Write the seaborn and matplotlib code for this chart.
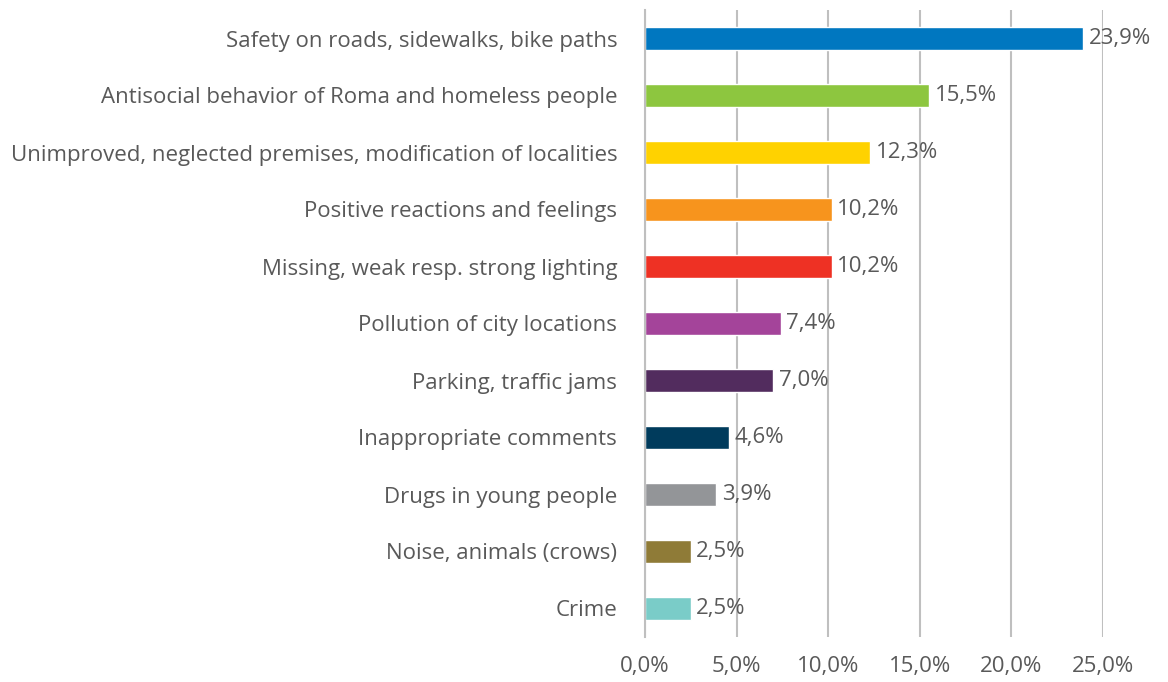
import matplotlib
matplotlib.use("Agg")
import matplotlib.pyplot as plt
from matplotlib.ticker import FixedLocator, FuncFormatter
import seaborn as sns
import pandas as pd

categories = [
    "Safety on roads, sidewalks, bike paths",
    "Antisocial behavior of Roma and homeless people",
    "Unimproved, neglected premises, modification of localities",
    "Positive reactions and feelings",
    "Missing, weak resp. strong lighting",
    "Pollution of city locations",
    "Parking, traffic jams",
    "Inappropriate comments",
    "Drugs in young people",
    "Noise, animals (crows)",
    "Crime",
]
values = [23.9, 15.5, 12.3, 10.2, 10.2, 7.4, 7.0, 4.6, 3.9, 2.5, 2.5]
colors = ["#0077C0", "#8DC63F", "#FFD200", "#F7941D", "#EE3124", "#A4449A",
          "#522C5E", "#003B5C", "#939598", "#8F7B37", "#7ACCC8"]
x_ticks = [0, 5, 10, 15, 20, 25]

sns.set_theme(style="white")
plt.rcParams["font.family"] = ["Open Sans", "DejaVu Sans"]
text_color = "#595959"
grid_color = "#BFBFBF"

df = pd.DataFrame({"category": categories, "value": values})

fig = plt.figure(figsize=(11.68, 6.82), dpi=100)
ax = fig.add_axes([645/1168, 1-637/682, (1103-645)/1168, (637-10)/682])

sns.barplot(data=df, x="value", y="category", hue="category", palette=colors,
            order=categories, hue_order=categories, width=0.42, legend=False,
            dodge=False, saturation=1, ax=ax, zorder=3)

ax.set_xlim(0, 25)
ax.set_ylim(len(categories) - 0.5, -0.5)
ax.xaxis.set_major_locator(FixedLocator(x_ticks))
ax.xaxis.set_major_formatter(FuncFormatter(lambda v, p: f"{v:.1f}%".replace(".", ",")))
ax.grid(axis="x", color=grid_color, linewidth=1.5, zorder=0)
ax.set_axisbelow(True)
for s in ["top", "right", "bottom"]:
    ax.spines[s].set_visible(False)
ax.spines["left"].set_color(grid_color)
ax.spines["left"].set_linewidth(1.5)
ax.spines["left"].set_zorder(4)

ax.set_xlabel("")
ax.set_ylabel("")
ax.tick_params(axis="x", length=0, pad=14, labelsize=16, labelcolor=text_color)
ax.tick_params(axis="y", which="major", length=0, pad=20, labelsize=16, labelcolor=text_color)
ax.yaxis.set_minor_locator(FixedLocator([i - 0.5 for i in range(len(categories) + 1)]))
ax.tick_params(axis="y", which="minor", length=8, width=1.5, color=grid_color)

for i, v in enumerate(values):
    ax.annotate(f"{v:.1f}%".replace(".", ","), xy=(v, i), xytext=(4, 0),
                textcoords="offset points", va="center", ha="left",
                fontsize=16, color=text_color, annotation_clip=False, zorder=5)

fig.savefig("out.png", dpi=100)
